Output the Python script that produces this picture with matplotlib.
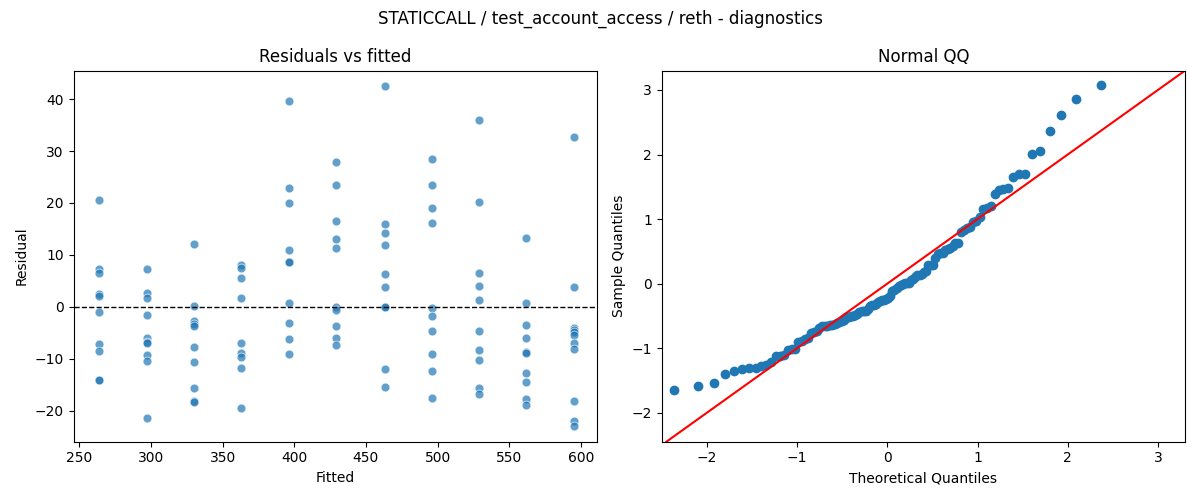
import matplotlib
matplotlib.use("Agg")
import matplotlib.pyplot as plt
import numpy as np
from statistics import NormalDist

fitted_levels = [264, 297, 330, 363, 396, 429, 463, 496, 529, 562, 595]
residual_groups = [
    [20.5, 7.2, 6.5, 2.5, 2.0, -1.0, -7.2, -8.5, -14.2, -14.2],
    [7.3, 2.7, 1.7, -1.5, -6.0, -6.7, -6.9, -9.2, -10.4, -21.5],
    [12.0, 0.1, -2.8, -3.4, -3.8, -7.8, -10.7, -15.7, -18.2, -18.4],
    [8.0, 7.5, 5.5, 1.7, -7.0, -9.0, -9.6, -11.8, -19.5],
    [39.6, 22.8, 19.9, 10.9, 8.6, 8.7, 0.7, -3.1, -6.2, -9.1],
    [27.8, 23.5, 16.5, 13.1, 11.4, -0.1, -0.7, -3.7, -6.0, -7.3],
    [42.5, 16.0, 14.3, 11.9, 6.3, 3.8, 0.0, 0.0, -12.0, -15.5],
    [28.4, 23.4, 19.1, 16.2, -0.3, -1.7, -4.6, -9.1, -12.3, -17.5],
    [36.0, 20.1, 6.5, 4.0, 1.3, -4.6, -8.3, -10.3, -15.7, -16.9],
    [13.3, 0.8, -3.5, -6.0, -8.8, -9.0, -12.7, -14.4, -17.7, -18.9],
    [32.7, 3.9, -4.0, -4.5, -4.8, -5.5, -7.0, -8.2, -18.2, -22.0, -22.9],
]

fitted = np.concatenate([[f] * len(g) for f, g in zip(fitted_levels, residual_groups)])
resid = np.concatenate([np.array(g, float) for g in residual_groups])

fig, (ax1, ax2) = plt.subplots(1, 2, figsize=(12, 5), dpi=100)
fig.suptitle("STATICCALL / test_account_access / reth - diagnostics")

ax1.scatter(fitted, resid, s=40, color="#1f77b4", alpha=0.7, edgecolor="white", linewidth=0.6)
ax1.axhline(0, color="black", linestyle="--", linewidth=1)
ax1.set_xlim(246, 611)
ax1.set_ylim(-26, 45.5)
ax1.set_xlabel("Fitted")
ax1.set_ylabel("Residual")
ax1.set_title("Residuals vs fitted")

z = np.sort((resid - resid.mean()) / resid.std(ddof=1))
n = len(z)
nd = NormalDist()
theo = np.array([nd.inv_cdf((i + 1) / (n + 1)) for i in range(n)])
ax2.plot(theo, z, "o", color="#1f77b4", markersize=6)
ax2.axline((0, 0), slope=1, color="red")
ax2.set_xlim(-2.5, 3.3)
ax2.set_ylim(-2.45, 3.3)
ax2.set_xlabel("Theoretical Quantiles")
ax2.set_ylabel("Sample Quantiles")
ax2.set_title("Normal QQ")

fig.tight_layout()
fig.savefig("out.png")
